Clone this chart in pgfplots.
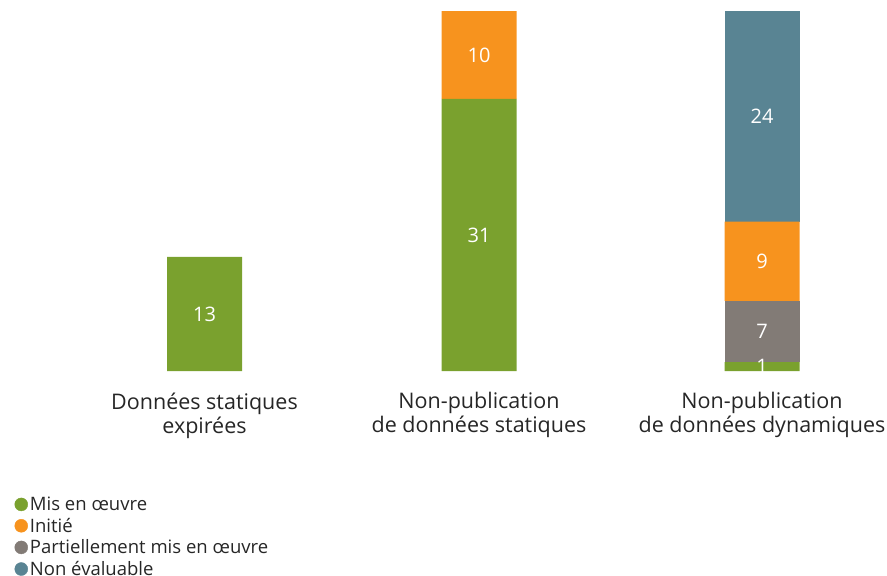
\documentclass[border=0pt]{standalone}
\usepackage{pgfplots}
\pgfplotsset{compat=1.18}
\usepackage{fontspec}
\setmainfont{Open Sans}
\definecolor{cvert}{RGB}{122,161,46}
\definecolor{corange}{RGB}{247,147,30}
\definecolor{cgris}{RGB}{130,123,118}
\definecolor{cbleu}{RGB}{89,132,147}
\definecolor{cbleufonce}{RGB}{0,140,175}
\pgfplotsset{dot/.style={legend image code/.code={\fill[#1] (-6pt,0pt) circle (6.5pt);}}}
\begin{document}
\begin{tikzpicture}[x=1pt,y=1pt]
\useasboundingbox (0,-205) rectangle (887,371);
\begin{axis}[
  at={(0,0)}, anchor=south west,
  scale only axis, width=887pt, height=360pt,
  ybar stacked, bar width=75pt,
  xmin=0, xmax=887, ymin=0, ymax=41,
  axis line style={draw=none}, tick style={draw=none},
  ytick=\empty, xtick={204.5,479,762},
  xticklabels={{Données statiques\\expirées},{Non-publication\\de données statiques},{Non-publication\\de données dynamiques}},
  xticklabel style={align=center, font=\fontsize{21.5}{24}\selectfont, text=black!85, yshift=-18pt},
  visualization depends on=rawy \as \rawy,
  nodes near coords={\ifdim\rawy pt>0.5pt\pgfmathprintnumber[assume math mode=true]{\rawy}\fi},
  every node near coord/.append style={anchor=center, text=white, font=\fontsize{20}{24}\selectfont},
  legend style={at={(0.0128,-0.338)}, anchor=north west, draw=none, fill=none,
    font=\fontsize{18.5}{21}\selectfont, row sep=2pt, text=black!85},
  legend cell align=left,
]
\addplot+[fill=cvert, draw=none, forget plot] coordinates {(204.5,13) (479,31) (762,1)};
\addplot+[fill=cgris, draw=none, forget plot] coordinates {(204.5,0) (479,0) (762,7)};
\addplot+[fill=corange, draw=none, forget plot] coordinates {(204.5,0) (479,10) (762,9)};
\addplot+[fill=cbleu, draw=none, forget plot] coordinates {(204.5,0) (479,0) (762,24)};
\addplot+[fill=cbleufonce, draw=none, forget plot, nodes near coords={}] coordinates {(204.5,0) (479,0) (762,0.12)};
\addlegendimage{dot=cvert}
\addlegendentry{Mis en œuvre}
\addlegendimage{dot=corange}
\addlegendentry{Initié}
\addlegendimage{dot=cgris}
\addlegendentry{Partiellement mis en œuvre}
\addlegendimage{dot=cbleu}
\addlegendentry{Non évaluable}
\end{axis}
\end{tikzpicture}
\end{document}
